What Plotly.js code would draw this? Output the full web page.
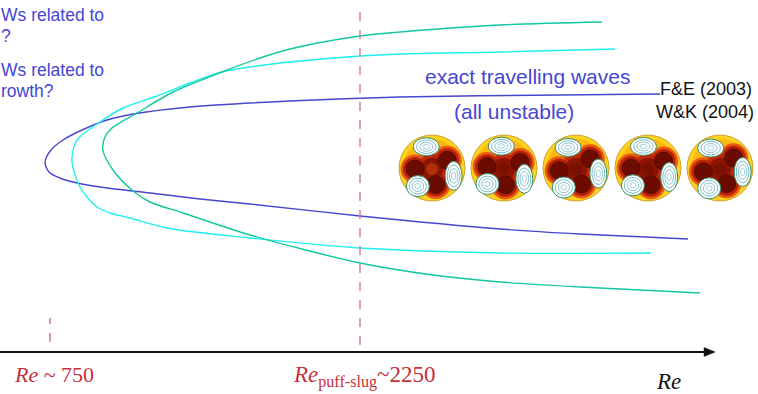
<!DOCTYPE html>
<html>
<head>
<meta charset="utf-8">
<script src="https://cdn.plot.ly/plotly-3.0.1.min.js"></script>
<style>html,body{margin:0;padding:0;background:#fff;}#chart{width:758px;height:394px;}</style>
</head>
<body>
<div id="chart"></div>
<script>
// ---- data (x = Re, y = amplitude, arbitrary units) ----
const blueRe  = [3702,3218,2444,1911,1427,1152,1026,905,813,755,726,745,798,861,992,1234,1476,1718,2250,2928,3315,3837];
const blueAmp = [2.58,2.57,2.55,2.51,2.45,2.38,2.32,2.22,2.12,2.02,1.90,1.80,1.74,1.70,1.65,1.59,1.53,1.48,1.36,1.23,1.18,1.13];

const cyanRe  = [3484,2928,2444,2250,1911,1752,1582,1427,1268,1103,992,881,856,895,977,1040,1137,1316,1718,2250,2928,3658];
const cyanAmp = [3.03,3.00,2.98,2.96,2.90,2.86,2.80,2.69,2.56,2.44,2.30,2.12,1.92,1.65,1.45,1.39,1.34,1.24,1.14,1.04,0.99,0.99];

const tealRe  = [3421,2928,2444,2250,1911,1752,1582,1345,1171,1050,1016,1006,1055,1152,1234,1394,1718,2250,2603,2928,3315,3895];
const tealAmp = [3.30,3.27,3.20,3.16,3.03,2.93,2.80,2.60,2.39,2.24,2.15,2.02,1.82,1.61,1.50,1.39,1.17,0.89,0.77,0.70,0.65,0.59];

const markerRe = [750, 2250];          // Re ~ 750, Re puff-slug ~ 2250
const axisStartRe = 508, axisEndRe = 3968;

// ---- geometry helpers ----
const W = 758, H = 394;
const px2paperX = px => px / W;
const px2paperY = py => 1 - py / H;

const lineStyle = c => ({color: c, width: 1.4, shape: 'spline', smoothing: 0.85});
const traces = [
  {x: blueRe, y: blueAmp, mode: 'lines', line: lineStyle('#4646cf'), hoverinfo: 'skip'},
  {x: cyanRe, y: cyanAmp, mode: 'lines', line: lineStyle('#1ff0f0'), hoverinfo: 'skip'},
  {x: tealRe, y: tealAmp, mode: 'lines', line: lineStyle('#12c8a0'), hoverinfo: 'skip'}
];

const shapes = [
  {type: 'line', xref: 'x', yref: 'y', x0: markerRe[1], x1: markerRe[1], y0: 0.07, y1: 3.44,
   line: {color: '#d9848c', width: 1.5, dash: 'dash'}},
  {type: 'line', xref: 'x', yref: 'y', x0: markerRe[0], x1: markerRe[0], y0: 0.10, y1: 0.34,
   line: {color: '#b03a3a', width: 1, dash: 'dash'}},
  {type: 'line', xref: 'x', yref: 'y', x0: axisStartRe, x1: axisEndRe - 30, y0: 0, y1: 0,
   line: {color: '#111111', width: 2}}
];
{
  const tipPx = (axisEndRe - 508.06) / 4.8387, yPx = 352;
  const p = (a, b) => px2paperX(a).toFixed(5) + ',' + px2paperY(b).toFixed(5);
  shapes.push({type: 'path', xref: 'paper', yref: 'paper',
    path: 'M' + p(tipPx, yPx) + ' L' + p(tipPx - 11, yPx - 4.5) + ' L' + p(tipPx - 11, yPx + 4.5) + ' Z',
    fillcolor: '#111111', line: {color: '#111111', width: 0.5}});
}

// decorative cross-section pictures (pipe flow snapshots)
function disc(cx, cy, rx, ry, fill, lineColor, lw) {
  shapes.push({type: 'circle', xref: 'paper', yref: 'paper',
    x0: px2paperX(cx - rx), x1: px2paperX(cx + rx),
    y0: px2paperY(cy + ry), y1: px2paperY(cy - ry),
    fillcolor: fill || 'rgba(0,0,0,0)', line: {color: lineColor || 'rgba(0,0,0,0)', width: lw || 0}});
}
const picCenters = [432, 504, 576, 648, 720];
const picY = 168, R = 33;
const rot = [0, -8, 6, -3, 10];
picCenters.forEach((cx, i) => {
  const r0 = rot[i] * Math.PI / 180;
  const pol = (ang, d) => {
    const a = ang * Math.PI / 180 + r0;
    return [cx + d * Math.cos(a), picY - d * Math.sin(a)];
  };
  disc(cx, picY, R, R, '#ffd21c', '#c9a236', 1);
  disc(cx, picY, R - 4, R - 4, '#ffb810');
  const arms = [183, 27, 283];
  disc(cx, picY + 1, 18, 18, '#ea5a14');
  arms.forEach(a => { const p = pol(a, 17); disc(p[0], p[1], 14.5, 14.5, '#ea5a14'); });
  disc(cx, picY + 1, 15, 15, '#c0280a');
  arms.forEach(a => { const p = pol(a, 17); disc(p[0], p[1], 12, 12, '#b82206'); });
  disc(cx, picY + 1, 11, 11, '#8a1402');
  arms.forEach(a => { const p = pol(a, 17); disc(p[0], p[1], 9, 9, '#6c0c00', '#3a0600', 0.6); });
  disc(cx, picY + 1, 6, 6, i === 0 ? '#b0300a' : '#7a1000');
  const vort = [[105, 22, 13, 9], [232, 23, 11.5, 10.5], [340, 23, 8.5, 14.5]];
  vort.forEach(v => {
    const p = pol(v[0], v[1]);
    disc(p[0], p[1], v[2], v[3], '#ffffff', '#2f8f6a', 1);
    disc(p[0], p[1], v[2] * 0.75, v[3] * 0.75, null, '#5aaab4', 0.8);
    disc(p[0], p[1], v[2] * 0.5, v[3] * 0.5, null, '#6ab4c0', 0.8);
    disc(p[0], p[1], v[2] * 0.25, v[3] * 0.25, null, '#7abcc8', 0.7);
  });
});

const blue = '#4646d2';
const red = '#c4303c';
const sans = 'Liberation Sans, Arial, sans-serif';
const serif = 'Liberation Serif, Times New Roman, serif';
function txt(text, px, py, anchor, size, color, family) {
  return {text: text, xref: 'paper', yref: 'paper', x: px2paperX(px), y: px2paperY(py),
    xanchor: anchor, yanchor: 'middle', showarrow: false,
    font: {size: size, color: color, family: family}};
}
const annotations = [
  txt('Ws related to', -1, 15, 'left', 17.5, blue, sans),
  txt('?', -1, 36, 'left', 17.5, blue, sans),
  txt('Ws related to', -1, 70, 'left', 17.5, blue, sans),
  txt('rowth?', -1, 91, 'left', 17.5, blue, sans),
  txt('exact travelling waves', 527, 77, 'center', 21, blue, sans),
  txt('(all unstable)', 514, 112, 'center', 21, blue, sans),
  txt('F&amp;E (2003)', 706, 89, 'center', 18, '#111111', sans),
  txt('W&amp;K (2004)', 705, 112, 'center', 18, '#111111', sans),
  txt('<i>Re</i> ~ 750', 12, 374, 'left', 22, red, serif),
  txt('<i>Re</i><sub>puff-slug</sub>~2250', 291, 376, 'left', 23, red, serif),
  txt('<i>Re</i>', 668, 381, 'center', 23, '#111111', serif)
];

const layout = {
  width: W, height: H,
  margin: {l: 0, r: 0, t: 0, b: 0},
  paper_bgcolor: '#ffffff', plot_bgcolor: '#ffffff',
  showlegend: false,
  xaxis: {range: [508.06, 4175.8], visible: false, fixedrange: true},
  yaxis: {range: [-0.42, 3.52], visible: false, fixedrange: true},
  shapes: shapes,
  annotations: annotations
};
Plotly.newPlot('chart', traces, layout, {displayModeBar: false, staticPlot: true});
</script>
</body>
</html>
